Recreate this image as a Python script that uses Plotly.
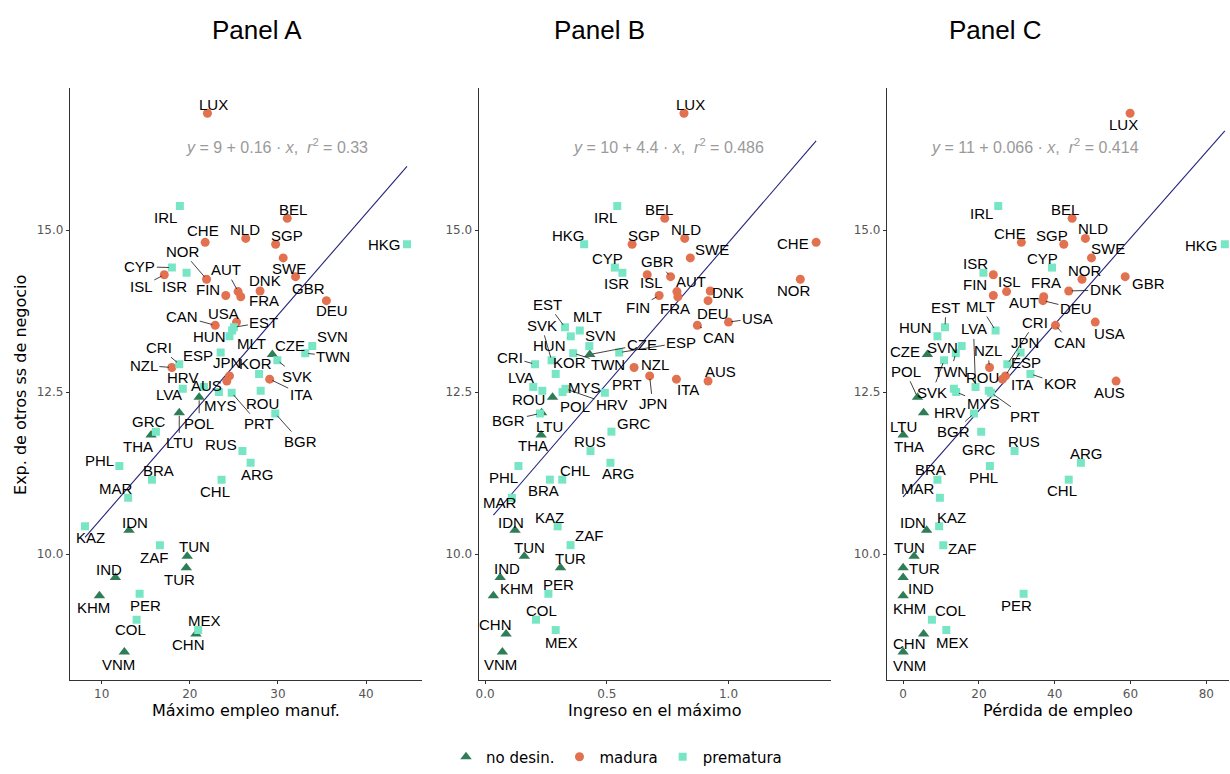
import numpy as np
import plotly.graph_objects as go

# ---------------- data ----------------
countries = ["LUX","IRL","BEL","NLD","CHE","SGP","HKG","SWE","CYP","ISR","ISL","GBR","NOR","DNK","AUT",
             "FIN","FRA","DEU","USA","CAN","EST","MLT","HUN","SVN","ESP","TWN","CZE","SVK","CRI","NZL",
             "KOR","JPN","ITA","AUS","LVA","HRV","ROU","MYS","PRT","POL","LTU","BGR","GRC","THA","RUS",
             "ARG","PHL","BRA","CHL","MAR","KAZ","IDN","ZAF","TUN","TUR","IND","PER","KHM","COL","MEX",
             "CHN","VNM"]
groups = ["m","p","m","m","m","m","p","m","p","p","m","m","m","m","m",
          "m","m","m","m","m","p","p","p","p","p","p","n","p","p","m",
          "p","m","m","m","p","p","p","p","p","n","n","p","p","n","p",
          "p","p","p","p","p","p","n","p","n","n","n","p","n","p","p",
          "n","n"]
exp_servicios = [16.80,15.37,15.18,14.87,14.81,14.78,14.78,14.57,14.42,14.34,14.31,14.28,14.24,14.06,14.05,
                 13.99,13.97,13.91,13.58,13.53,13.50,13.45,13.36,13.21,13.11,13.10,13.08,12.99,12.93,12.88,
                 12.78,12.75,12.70,12.67,12.58,12.55,12.52,12.50,12.49,12.42,12.18,12.17,11.89,11.84,11.59,
                 11.41,11.36,11.15,11.15,10.87,10.43,10.37,10.14,9.97,9.79,9.64,9.39,9.36,8.99,8.83,
                 8.77,8.49]
max_empleo_manuf = [22.0,18.87,31.06,26.35,21.74,29.74,44.65,30.6,17.96,19.63,17.1,32.0,21.9,27.97,25.48,
                    24.08,25.78,35.5,25.3,22.88,25.0,24.8,24.5,33.9,23.5,33.1,29.37,29.93,18.8,17.96,
                    27.86,24.5,29.06,24.2,21.6,19.2,28.04,23.3,24.75,21.06,18.8,29.7,16.15,15.6,25.97,
                    26.9,12.0,15.7,23.6,13.0,8.1,13.1,16.6,19.7,19.6,11.55,14.3,9.74,13.96,20.95,
                    20.7,12.57]
ingreso_maximo = [0.817,0.543,0.738,0.82,1.36,0.604,0.407,0.843,0.533,0.564,0.666,0.762,1.295,0.925,0.788,
                  0.715,0.792,0.916,1.0,0.872,0.328,0.389,0.352,0.428,0.551,0.362,0.43,0.273,0.205,0.612,
                  0.29,0.676,0.786,0.916,0.198,0.33,0.235,0.318,0.492,0.277,0.232,0.225,0.519,0.23,0.433,
                  0.515,0.137,0.266,0.317,0.11,0.298,0.123,0.351,0.161,0.31,0.062,0.26,0.034,0.209,0.29,
                  0.086,0.071]
perdida_empleo = [59.9,25.1,44.6,48.1,31.2,42.4,84.9,49.7,39.3,21.2,23.8,58.6,47.2,43.7,27.3,
                  23.8,37.1,36.9,50.7,40.2,11.05,24.4,9.05,15.45,31.0,13.9,6.4,10.8,27.5,22.8,
                  33.6,27.0,26.2,56.2,19.1,13.4,22.6,14.0,23.2,3.8,5.4,18.7,20.6,0.0,29.4,
                  46.9,22.9,9.05,43.7,9.7,9.5,6.2,10.6,2.9,0.0,0.0,31.8,0.0,7.6,11.4,
                  5.4,0.0]

panel_titles = ["Panel A", "Panel B", "Panel C"]
x_titles = ["Máximo empleo manuf.", "Ingreso en el máximo", "Pérdida de empleo"]
y_title = "Exp. de otros ss de negocio"
equations = ["<i>y</i> = 9 + 0.16 · <i>x</i>,  <i>r</i><sup>2</sup> = 0.33",
             "<i>y</i> = 10 + 4.4 · <i>x</i>,  <i>r</i><sup>2</sup> = 0.486",
             "<i>y</i> = 11 + 0.066 · <i>x</i>,  <i>r</i><sup>2</sup> = 0.414"]
x_tickvals = [[10, 20, 30, 40], [0.0, 0.5, 1.0], [0, 20, 40, 60, 80]]
x_ticktext = [["10", "20", "30", "40"], ["0.0", "0.5", "1.0"], ["0", "20", "40", "60", "80"]]
y_tickvals = [10, 12.5, 15]
y_ticktext = ["10.0", "12.5", "15.0"]
group_order = ["n", "m", "p"]
group_names = {"n": "no desin.", "m": "madura", "p": "prematura"}

# ---------------- label placement (pixel offsets: dx, dy, segment) ----------------
lab_A = {"LUX":(6,-9,0),"IRL":(-14,11,0),"BEL":(6,-9,0),"CHE":(-2,-12,0),"NLD":(-1,-9,0),"SGP":(11,-9,0),
 "HKG":(-22,0,0),"SWE":(6,11,0),"GBR":(13,12,0),"CYP":(-32,-1,1),"ISR":(-12,14,0),"ISL":(-23,12,1),
 "NOR":(-24,-28,1),"FIN":(-18,-6,0),"AUT":(-12,-22,1),"FRA":(23,4,0),"DNK":(5,-10,0),"DEU":(6,10,0),
 "CAN":(-33,-9,1),"USA":(-13,-9,0),"EST":(30,-5,1),"HUN":(-20,0,0),"MLT":(19,13,0),"SVN":(20,-10,0),
 "TWN":(28,3,1),"CZE":(18,-9,0),"SVK":(20,16,1),"ESP":(-23,3,0),"CRI":(-20,-17,1),"NZL":(-28,-2,1),
 "KOR":(-4,-10,0),"JPN":(-2,-13,0),"AUS":(-20,4,0),"HRV":(0,-11,0),"ITA":(31,15,1),"LVA":(-35,8,0),
 "MYS":(2,13,0),"PRT":(27,31,1),"ROU":(2,13,0),"POL":(0,26,1),"BGR":(25,28,1),"LTU":(0,30,1),
 "GRC":(-7,-10,0),"THA":(-13,12,0),"RUS":(-21,-7,0),"ARG":(7,12,0),"PHL":(-20,-6,0),"BRA":(7,-9,0),
 "CHL":(-7,12,0),"MAR":(-12,-9,0),"KAZ":(6,11,0),"IDN":(6,-8,0),"ZAF":(-6,12,0),"TUN":(7,-10,0),
 "TUR":(-7,12,0),"IND":(-6,-8,0),"KHM":(-6,12,0),"PER":(6,12,0),"COL":(-6,10,0),"MEX":(6,-10,0),
 "CHN":(-7,11,0),"VNM":(-6,12,0)}
lab_B = {"LUX":(7,-9,0),"IRL":(-12,11,0),"BEL":(-6,-9,0),"NLD":(1,-9,0),"SGP":(12,-9,0),"HKG":(-16,-9,0),
 "CHE":(-23,1,0),"SWE":(22,-8,0),"CYP":(-7,-9,0),"ISR":(-6,11,0),"ISL":(4,8,0),"GBR":(-13,-15,1),
 "NOR":(-6,11,0),"AUT":(14,-10,0),"FRA":(-3,12,0),"FIN":(-21,12,1),"DNK":(18,2,0),"DEU":(5,13,0),
 "USA":(29,-4,1),"CAN":(22,12,1),"EST":(-17,-23,1),"MLT":(8,-14,0),"HUN":(-21,9,1),"SVN":(11,-11,0),
 "ESP":(62,-10,1),"TWN":(35,11,1),"CZE":(52,-10,1),"SVK":(-10,-35,1),"CRI":(-25,-7,1),"NZL":(21,-3,0),
 "KOR":(14,-11,0),"JPN":(3,28,1),"ITA":(12,10,0),"AUS":(12,-10,0),"LVA":(-12,-9,0),"HRV":(46,16,1),
 "ROU":(-14,9,0),"MYS":(22,-5,0),"PRT":(22,-8,0),"POL":(22,9,0),"BGR":(-31,7,1),"LTU":(8,14,0),
 "THA":(-8,11,0),"GRC":(23,-8,0),"RUS":(0,-10,0),"ARG":(8,11,0),"PHL":(-15,11,0),"BRA":(-6,11,0),
 "CHL":(13,-9,0),"MAR":(-12,5,0),"IDN":(-4,-8,0),"KAZ":(-8,-9,0),"ZAF":(18,-10,0),"TUN":(5,-9,0),
 "TUR":(10,-9,0),"IND":(7,-9,0),"KHM":(23,-7,0),"PER":(10,-9,0),"COL":(6,-9,0),"MEX":(6,12,0),
 "CHN":(-11,-9,0),"VNM":(-2,12,0)}
lab_C = {"LUX":(-7,11,0),"IRL":(-17,7,0),"BEL":(-7,-9,0),"CHE":(-11,-9,0),"SGP":(-12,-9,0),"NLD":(8,-10,0),
 "SWE":(17,-9,0),"HKG":(-23,1,0),"CYP":(-10,-9,0),"ISR":(-8,-9,0),"ISL":(16,7,0),"AUT":(17,11,0),
 "FIN":(-18,-11,0),"FRA":(2,-14,0),"DEU":(33,8,1),"DNK":(37,-1,1),"NOR":(3,-9,0),"GBR":(23,7,0),
 "USA":(14,11,0),"CAN":(15,17,1),"AUS":(-7,11,0),"EST":(1,-20,1),"HUN":(-22,-9,0),"MLT":(-15,-24,1),
 "LVA":(-2,-58,1),"SVN":(-19,1,0),"CZE":(-22,-3,0),"TWN":(-5,18,1),"SVK":(-12,32,1),"ESP":(5,10,0),
 "CRI":(28,-42,1),"NZL":(-2,-17,1),"KOR":(30,10,1),"JPN":(20,-33,1),"ITA":(20,5,0),"HRV":(-4,24,0),
 "ROU":(-6,-13,0),"MYS":(27,11,1),"PRT":(34,24,1),"POL":(-12,-26,1),"LTU":(-20,14,0),"BGR":(-20,18,1),
 "GRC":(-2,18,0),"THA":(6,12,0),"RUS":(9,-10,0),"ARG":(6,-9,0),"CHL":(-7,11,0),"PHL":(-6,11,0),
 "BRA":(-7,-10,0),"MAR":(-22,-9,0),"KAZ":(12,-9,0),"IDN":(-14,-8,0),"ZAF":(19,3,0),"TUN":(-5,-9,0),
 "TUR":(21,1,0),"IND":(18,11,0),"KHM":(6,13,0),"PER":(-7,12,0),"COL":(19,-9,0),"MEX":(6,12,0),
 "CHN":(-14,10,0),"VNM":(6,13,0)}

# ---------------- styles ----------------
W, H = 1230, 774
colors = {"n": "#2E7D57", "m": "#E2714F", "p": "#78E6C4"}
symbols = {"n": "triangle-up", "m": "circle", "p": "square"}
sizes = {"n": 10, "m": 9, "p": 8}
x_ranges = [[6.38, 46.35], [-0.027, 1.421], [-4.3, 86.0]]
y_range = [8.06, 17.19]
x_dom_px = [(67, 420), (476.7, 830), (886, 1229)]
y_dom_px = (88, 680)
title_px = [255, 598, 995]
eq_pos = [(29.9, 16.29), (0.752, 16.29), (34.9, 16.29)]
label_font = dict(family="Liberation Sans, Arial, sans-serif", size=15, color="black")
axis_font = "DejaVu Sans, sans-serif"

fig = go.Figure()
xs_all = [max_empleo_manuf, ingreso_maximo, perdida_empleo]
labs = [lab_A, lab_B, lab_C]
y_arr = np.array(exp_servicios)
grp_arr = np.array(groups)
annotations = []

for i in range(3):
    xa = "x" if i == 0 else f"x{i+1}"
    ya = "y" if i == 0 else f"y{i+1}"
    xs = np.array(xs_all[i])
    # regression line fitted on the data
    slope, intercept = np.polyfit(xs, y_arr, 1)
    xl = np.array([xs.min(), xs.max()])
    fig.add_trace(go.Scatter(x=xl, y=intercept + slope * xl, mode="lines",
                             line=dict(color="#23237A", width=1.1), showlegend=False,
                             hoverinfo="skip", xaxis=xa, yaxis=ya))
    for g in group_order:
        mask = grp_arr == g
        fig.add_trace(go.Scatter(
            x=xs[mask], y=y_arr[mask], mode="markers", name=group_names[g],
            marker=dict(symbol=symbols[g], color=colors[g], size=sizes[g], line=dict(width=0)),
            showlegend=(i == 0), legendgroup=g, xaxis=xa, yaxis=ya))
    # labels
    for c, xv, yv in zip(countries, xs, y_arr):
        dx, dy, seg = labs[i][c]
        if seg:
            annotations.append(dict(x=xv, y=yv, xref=xa, yref=ya, text=c, showarrow=True,
                                    ax=dx, ay=dy, arrowhead=0, arrowwidth=0.8, arrowcolor="#111",
                                    standoff=3, font=label_font))
        else:
            annotations.append(dict(x=xv, y=yv, xref=xa, yref=ya, text=c, showarrow=False,
                                    xanchor="center", yanchor="middle",
                                    xshift=dx, yshift=-dy, font=label_font))
    # equation
    annotations.append(dict(x=eq_pos[i][0], y=eq_pos[i][1], xref=xa, yref=ya, text=equations[i],
                            showarrow=False, xanchor="center", yanchor="middle",
                            font=dict(family="Liberation Sans, Arial, sans-serif",
                                      size=16, color="#9A9A9A")))
    # panel title
    annotations.append(dict(x=title_px[i] / W, y=1 - 30 / H, xref="paper", yref="paper",
                            text=panel_titles[i], showarrow=False, xanchor="center", yanchor="middle",
                            font=dict(family="Liberation Sans, Arial, sans-serif", size=26, color="black")))
    axis_common = dict(showline=True, linecolor="#333333", linewidth=1, ticks="outside", ticklen=3,
                       tickcolor="#333333", showgrid=False, zeroline=False,
                       tickfont=dict(family=axis_font, size=12, color="#555555"))
    x0, x1 = x_dom_px[i]
    fig.update_layout(**{
        ("xaxis" if i == 0 else f"xaxis{i+1}"): dict(
            domain=[x0 / W, x1 / W], range=x_ranges[i], anchor=ya,
            tickvals=x_tickvals[i], ticktext=x_ticktext[i],
            title=dict(text=x_titles[i], standoff=4, font=dict(family=axis_font, size=16, color="black")),
            **axis_common),
        ("yaxis" if i == 0 else f"yaxis{i+1}"): dict(
            domain=[1 - y_dom_px[1] / H, 1 - y_dom_px[0] / H], range=y_range, anchor=xa,
            tickvals=y_tickvals, ticktext=y_ticktext, **axis_common),
    })

annotations.append(dict(x=18 / W, y=1 - 385 / H, xref="paper", yref="paper", text=y_title,
                        textangle=-90, showarrow=False, xanchor="center", yanchor="middle",
                        font=dict(family=axis_font, size=16, color="black")))

fig.update_layout(
    width=W, height=H, margin=dict(l=0, r=0, t=0, b=0),
    paper_bgcolor="white", plot_bgcolor="white",
    annotations=annotations,
    legend=dict(orientation="h", x=0.5, xanchor="center", y=1 - 757 / H, yanchor="middle",
                font=dict(family=axis_font, size=15, color="black"), itemwidth=30,
                tracegroupgap=0),
)

fig.write_html("out.html")
